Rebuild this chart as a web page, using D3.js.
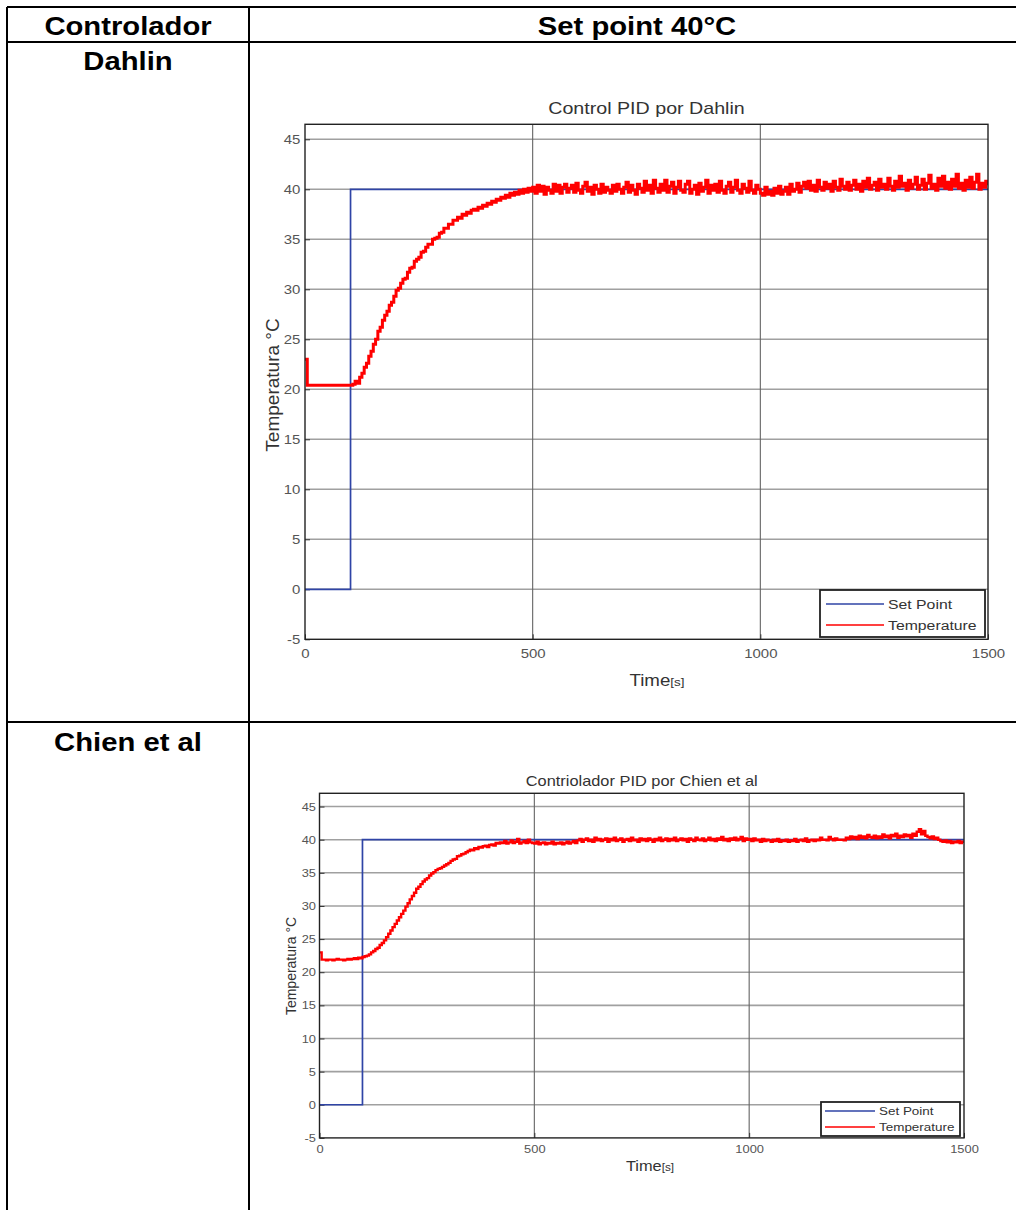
<!DOCTYPE html>
<html>
<head>
<meta charset="utf-8">
<script src="https://cdn.jsdelivr.net/npm/d3@7"></script>
<style>
  html, body { margin: 0; padding: 0; background: #fff; }
  svg { display: block; }
</style>
</head>
<body>
<svg id="page" width="1016" height="1210"></svg>
<script>
// ---- table text ----
const headerLabels = ["Controlador", "Set point 40°C"];
const rowLabels = ["Dahlin", "Chien et al"];

// ---- chart text ----
const chartTitles = ["Control PID por Dahlin", "Contriolador PID por Chien et al"];
const yAxisLabel = "Temperatura °C";
const legendLabels = ["Set Point", "Temperature"];
const yTickValues = [-5, 0, 5, 10, 15, 20, 25, 30, 35, 40, 45];
const xTickValues = [0, 500, 1000, 1500];

// ---- set point step (s, °C) ----
const setPointTime = [0, 100, 100, 1500];
const setPointValue = [0, 0, 40, 40];

// ---- measured temperature, one sample every 5 s from t = 0 to 1500 s ----
const sampleStep = 5;
const dahlinTemp = [
  23.0, 20.4, 20.4, 20.4, 20.4, 20.4, 20.4, 20.4, 20.4, 20.4,   // 0-45
  20.4, 20.4, 20.4, 20.4, 20.4, 20.4, 20.4, 20.4, 20.4, 20.4,   // 50-95
  20.4, 20.5, 20.8, 20.6, 21.2, 21.6, 22.2, 22.6, 23.3, 23.8,   // 100-145
  24.5, 25.0, 25.8, 26.2, 26.9, 27.4, 27.8, 28.4, 28.7, 29.3,   // 150-195
  29.9, 30.1, 30.6, 31.0, 31.1, 31.7, 32.1, 32.2, 32.8, 33.0,   // 200-245
  33.2, 33.7, 33.8, 34.2, 34.5, 34.5, 35.0, 35.1, 35.2, 35.6,   // 250-295
  35.7, 36.1, 36.1, 36.5, 36.5, 36.9, 36.9, 37.2, 37.1, 37.5,   // 300-345
  37.4, 37.7, 37.6, 37.9, 38.0, 37.9, 38.2, 38.1, 38.4, 38.3,   // 350-395
  38.6, 38.5, 38.8, 38.7, 39.0, 38.9, 39.2, 39.1, 39.4, 39.2,   // 400-445
  39.6, 39.4, 39.7, 39.5, 39.9, 39.6, 40.0, 39.7, 40.1, 39.8,   // 450-495
  40.2, 39.6, 40.4, 39.8, 40.3, 39.5, 40.2, 39.9, 39.6, 40.5,   // 500-545
  39.8, 40.4, 39.6, 40.2, 40.5, 39.7, 40.1, 40.4, 39.7, 40.6,   // 550-595
  39.9, 39.6, 40.3, 40.7, 39.8, 40.2, 39.5, 40.4, 40.0, 39.6,   // 600-645
  40.5, 39.7, 40.2, 39.9, 39.6, 40.4, 39.8, 40.5, 40.0, 39.6,   // 650-695
  40.2, 40.7, 39.7, 40.4, 39.9, 39.5, 40.5, 40.1, 39.7, 40.8,   // 700-745
  39.9, 40.4, 39.6, 40.9, 40.1, 39.7, 40.5, 39.9, 40.9, 39.7,   // 750-795
  40.3, 40.7, 39.6, 40.2, 40.8, 39.9, 39.7, 40.5, 40.8, 39.6,   // 800-845
  40.0, 40.4, 39.5, 40.6, 39.8, 40.2, 40.9, 39.6, 40.4, 39.9,   // 850-895
  40.5, 39.7, 40.8, 39.9, 39.6, 40.3, 40.7, 39.7, 40.2, 40.9,   // 900-945
  39.9, 39.6, 40.5, 40.1, 39.7, 40.8, 39.9, 39.6, 40.4, 40.0,   // 950-995
  39.6, 39.4, 40.2, 39.5, 39.8, 39.4, 40.1, 39.6, 40.3, 39.5,   // 1000-1045
  39.8, 40.2, 39.5, 40.5, 39.8, 40.0, 40.6, 39.7, 40.3, 40.7,   // 1050-1095
  40.1, 40.8, 39.9, 40.4, 39.8, 40.9, 40.2, 39.9, 40.7, 40.1,   // 1100-1145
  40.5, 39.8, 40.8, 40.2, 39.9, 41.0, 40.3, 40.0, 40.7, 39.9,   // 1150-1195
  40.4, 40.9, 40.0, 40.5, 39.8, 40.8, 40.2, 41.1, 40.0, 40.4,   // 1200-1245
  40.7, 39.9, 41.0, 40.2, 40.5, 40.0, 41.1, 40.3, 39.9, 40.8,   // 1250-1295
  40.2, 41.3, 40.3, 40.6, 39.9, 40.9, 40.1, 40.5, 41.2, 40.0,   // 1300-1345
  40.4, 41.0, 40.0, 40.6, 41.4, 40.1, 40.5, 39.9, 41.1, 40.3,   // 1350-1395
  41.3, 40.1, 40.7, 40.0, 41.0, 40.3, 41.5, 40.1, 40.6, 39.9,   // 1400-1445
  40.9, 40.2, 41.2, 40.1, 40.7, 41.5, 40.0, 40.6, 40.2, 40.8,   // 1450-1495
  40.4                                                          // 1500
];
const chienTemp = [
  23.0, 21.9, 21.9, 21.8, 21.9, 21.9, 21.8, 21.9, 22.0, 21.9,   // 0-45
  21.9, 21.8, 21.9, 22.0, 21.9, 22.0, 22.1, 22.0, 22.2, 22.1,   // 50-95
  22.3, 22.4, 22.5, 22.7, 23.0, 23.2, 23.5, 23.7, 24.1, 24.4,   // 100-145
  24.8, 25.3, 25.8, 26.3, 26.8, 27.3, 27.8, 28.3, 28.8, 29.3,   // 150-195
  29.9, 30.4, 31.0, 31.5, 32.0, 32.6, 32.9, 33.3, 33.7, 34.0,   // 200-245
  34.2, 34.6, 34.9, 35.1, 35.4, 35.6, 35.7, 35.9, 36.1, 36.3,   // 250-295
  36.5, 36.8, 37.0, 37.1, 37.5, 37.6, 37.8, 37.9, 38.1, 38.3,   // 300-345
  38.5, 38.4, 38.7, 38.6, 38.9, 38.8, 39.0, 39.1, 38.9, 39.2,   // 350-395
  39.3, 39.1, 39.5, 39.4, 39.6, 39.5, 39.8, 39.4, 39.6, 39.9,   // 400-445
  39.5, 39.7, 40.1, 39.4, 39.6, 39.8, 39.5, 40.0, 39.6, 39.5,   // 450-495
  39.4, 39.7, 39.3, 39.5, 39.6, 39.3, 39.5, 39.4, 39.7, 39.3,   // 500-545
  39.5, 39.4, 39.6, 39.3, 39.5, 39.7, 39.4, 39.6, 39.8, 39.5,   // 550-595
  39.9, 40.1, 39.7, 40.0, 40.2, 39.8, 40.0, 39.7, 40.3, 39.9,   // 600-645
  40.1, 39.8, 40.0, 40.2, 39.7, 40.1, 39.9, 40.3, 39.8, 40.0,   // 650-695
  40.2, 39.7, 40.0, 40.1, 39.8, 40.3, 39.9, 40.0, 39.7, 40.2,   // 700-745
  39.9, 40.1, 39.8, 40.2, 40.0, 39.7, 40.1, 39.9, 40.3, 39.8,   // 750-795
  40.0, 40.2, 39.8, 40.1, 39.9, 40.3, 39.8, 40.0, 40.2, 39.9,   // 800-845
  40.1, 39.7, 40.2, 40.0, 39.8, 40.3, 40.0, 39.9, 40.2, 39.8,   // 850-895
  40.0, 40.3, 39.9, 40.1, 39.8, 40.2, 40.0, 40.4, 39.9, 40.1,   // 900-945
  39.8, 40.2, 40.0, 40.3, 39.9, 40.1, 40.4, 39.8, 40.2, 40.0,   // 950-995
  40.1, 39.8, 40.2, 39.9, 40.0, 39.7, 40.1, 39.8, 40.0, 39.9,   // 1000-1045
  39.7, 40.0, 39.8, 40.1, 39.7, 39.9, 39.8, 40.0, 39.7, 39.9,   // 1050-1095
  39.8, 40.1, 39.7, 39.9, 40.0, 39.8, 40.2, 39.7, 39.9, 40.0,   // 1100-1145
  39.8, 40.0, 39.9, 40.3, 40.0, 40.0, 39.9, 40.4, 40.1, 39.9,   // 1150-1195
  40.2, 40.0, 40.0, 40.0, 39.9, 40.3, 40.1, 40.5, 40.2, 40.4,   // 1200-1245
  40.1, 40.6, 40.3, 40.5, 40.2, 40.7, 40.4, 40.3, 40.6, 40.2,   // 1250-1295
  40.5, 40.3, 40.8, 40.4, 40.6, 40.2, 40.7, 40.5, 40.9, 40.3,   // 1300-1345
  40.6, 40.4, 40.8, 40.5, 40.7, 40.3, 40.9, 40.6, 41.2, 41.6,   // 1350-1395
  40.8, 41.3, 40.6, 40.4, 40.2, 40.5, 40.1, 40.3, 40.0, 39.8,   // 1400-1445
  39.7, 39.9, 39.6, 39.8, 39.5, 39.7, 39.6, 39.8, 39.5, 39.7,   // 1450-1495
  39.6                                                          // 1500
];

const FONT = "'Liberation Sans', Arial, Helvetica, sans-serif";
const BLUE = "#2f44a6";
const RED = "#ff0000";
const SX = 1.17;   // horizontal glyph stretch used by the document's text

const svg = d3.select("#page");

// text placed at (x, y) and widened horizontally by SX
function stretchedText(parent, x, y, str) {
  return parent.append("text")
    .attr("transform", `translate(${x},${y}) scale(${SX},1)`)
    .text(str);
}

// ---- table frame and cell labels ----
const table = svg.append("g").attr("stroke", "#000").attr("stroke-width", 2);
table.append("line").attr("x1", 7).attr("x2", 1016).attr("y1", 7).attr("y2", 7);
table.append("line").attr("x1", 7).attr("x2", 1016).attr("y1", 42).attr("y2", 42);
table.append("line").attr("x1", 7).attr("x2", 1016).attr("y1", 722).attr("y2", 722);
table.append("line").attr("x1", 7).attr("x2", 7).attr("y1", 7).attr("y2", 1210);
table.append("line").attr("x1", 249).attr("x2", 249).attr("y1", 7).attr("y2", 1210);

const cellText = svg.append("g")
  .attr("font-family", FONT).attr("font-weight", "bold")
  .attr("font-size", 25).attr("fill", "#000").attr("text-anchor", "middle");
stretchedText(cellText, 128, 35, headerLabels[0]);
stretchedText(cellText, 637, 35, headerLabels[1]);
stretchedText(cellText, 128, 70, rowLabels[0]);
stretchedText(cellText, 128, 751, rowLabels[1]);

// ---- one MATLAB-style response plot ----
function drawChart(cfg, temp, title) {
  const g = svg.append("g").attr("font-family", FONT);
  const x = d3.scaleLinear().domain([0, 1500]).range([cfg.left, cfg.right]);
  const y = d3.scaleLinear().domain([-5, cfg.yMax]).range([cfg.bottom, cfg.top]);
  const clipId = "clip-" + cfg.id;

  g.append("clipPath").attr("id", clipId).append("rect")
    .attr("x", cfg.left).attr("y", cfg.top)
    .attr("width", cfg.right - cfg.left).attr("height", cfg.bottom - cfg.top);

  // grid
  g.append("g").selectAll("line")
    .data(yTickValues.filter(v => v > -5))
    .join("line")
    .attr("x1", cfg.left).attr("x2", cfg.right)
    .attr("y1", d => y(d)).attr("y2", d => y(d))
    .attr("stroke", "#a0a0a0").attr("stroke-width", 1.6);
  g.append("g").selectAll("line")
    .data(xTickValues.filter(v => v > 0 && v < 1500))
    .join("line")
    .attr("x1", d => x(d)).attr("x2", d => x(d))
    .attr("y1", cfg.top).attr("y2", cfg.bottom)
    .attr("stroke", "#646464").attr("stroke-width", 1.1);

  // axes (ticks point into the plot)
  const yAxis = g.append("g").attr("transform", `translate(${cfg.left},0)`)
    .call(d3.axisLeft(y).tickValues(yTickValues).tickSizeInner(-5).tickSizeOuter(0)
      .tickPadding(cfg.tickPadY).tickFormat(d => String(d)));
  const xAxis = g.append("g").attr("transform", `translate(0,${cfg.bottom})`)
    .call(d3.axisBottom(x).tickValues(xTickValues).tickSizeInner(-5).tickSizeOuter(0)
      .tickPadding(cfg.tickPadX).tickFormat(d => String(d)));
  [yAxis, xAxis].forEach(a => {
    a.attr("font-family", FONT).attr("font-size", cfg.tickSize);
    a.select(".domain").remove();
    a.selectAll("line").attr("stroke", "#333");
    a.selectAll("text").attr("fill", "#555").attr("transform", `scale(${SX},1)`);
  });

  // set point and temperature traces
  const sp = setPointTime.map((t, i) => [t, setPointValue[i]]);
  g.append("path").datum(sp)
    .attr("clip-path", `url(#${clipId})`)
    .attr("fill", "none").attr("stroke", BLUE).attr("stroke-width", 1.7)
    .attr("d", d3.line().x(d => x(d[0])).y(d => y(d[1])));
  g.append("path").datum(temp)
    .attr("clip-path", `url(#${clipId})`)
    .attr("fill", "none").attr("stroke", RED).attr("stroke-width", cfg.redWidth)
    .attr("d", d3.line().x((d, i) => x(i * sampleStep)).y(d => y(d)).curve(d3.curveStepAfter));

  // plot frame
  g.append("rect")
    .attr("x", cfg.left).attr("y", cfg.top)
    .attr("width", cfg.right - cfg.left).attr("height", cfg.bottom - cfg.top)
    .attr("fill", "none").attr("stroke", "#222").attr("stroke-width", 1.4);

  // title and axis labels
  stretchedText(g, (cfg.left + cfg.right) / 2, cfg.titleY, title)
    .attr("text-anchor", "middle").attr("font-size", cfg.titleSize).attr("fill", "#333");
  const xl = stretchedText(g, cfg.xLabelX, cfg.xLabelY, null)
    .attr("text-anchor", "middle").attr("font-size", cfg.labelSize).attr("fill", "#333");
  xl.append("tspan").text("Time");
  xl.append("tspan").attr("font-size", cfg.labelSize * 0.72).text("[s]");
  g.append("text")
    .attr("transform", `translate(${cfg.yLabelX},${cfg.yLabelY}) rotate(-90)`)
    .attr("text-anchor", "middle").attr("font-size", cfg.yLabelSize).attr("fill", "#333")
    .text(yAxisLabel);

  // legend
  const lg = cfg.legend;
  g.append("rect").attr("x", lg.x0).attr("y", lg.y0)
    .attr("width", lg.x1 - lg.x0).attr("height", lg.y1 - lg.y0)
    .attr("fill", "#fff").attr("stroke", "#222").attr("stroke-width", 1.8);
  [BLUE, RED].forEach((c, i) => {
    const ly = lg.rows[i];
    g.append("line").attr("x1", lg.lineX0).attr("x2", lg.lineX1)
      .attr("y1", ly).attr("y2", ly).attr("stroke", c).attr("stroke-width", 1.6);
    stretchedText(g, lg.textX, ly, legendLabels[i])
      .attr("dy", "0.35em").attr("font-size", lg.size).attr("fill", "#333");
  });
}

drawChart({
  id: "dahlin", left: 305, right: 988, top: 124.3, bottom: 639.3, yMax: 46.5,
  tickSize: 12.8, tickPadY: 4, tickPadX: 10, titleSize: 16.8, titleY: 114,
  labelSize: 16, yLabelSize: 19,
  xLabelX: 657, xLabelY: 686, yLabelX: 279, yLabelY: 385, redWidth: 3,
  legend: { x0: 820, x1: 985, y0: 590, y1: 637, lineX0: 826, lineX1: 884, textX: 888,
            rows: [604, 625], size: 13.5 }
}, dahlinTemp, chartTitles[0]);

drawChart({
  id: "chien", left: 319.5, right: 964, top: 793.3, bottom: 1137.9, yMax: 47,
  tickSize: 11, tickPadY: 3, tickPadX: 7, titleSize: 14, titleY: 786,
  labelSize: 14, yLabelSize: 14,
  xLabelX: 650, xLabelY: 1171, yLabelX: 296, yLabelY: 966, redWidth: 2.4,
  legend: { x0: 821, x1: 960, y0: 1102, y1: 1136, lineX0: 825, lineX1: 875, textX: 879,
            rows: [1111, 1127], size: 11.5 }
}, chienTemp, chartTitles[1]);
</script>
</body>
</html>
